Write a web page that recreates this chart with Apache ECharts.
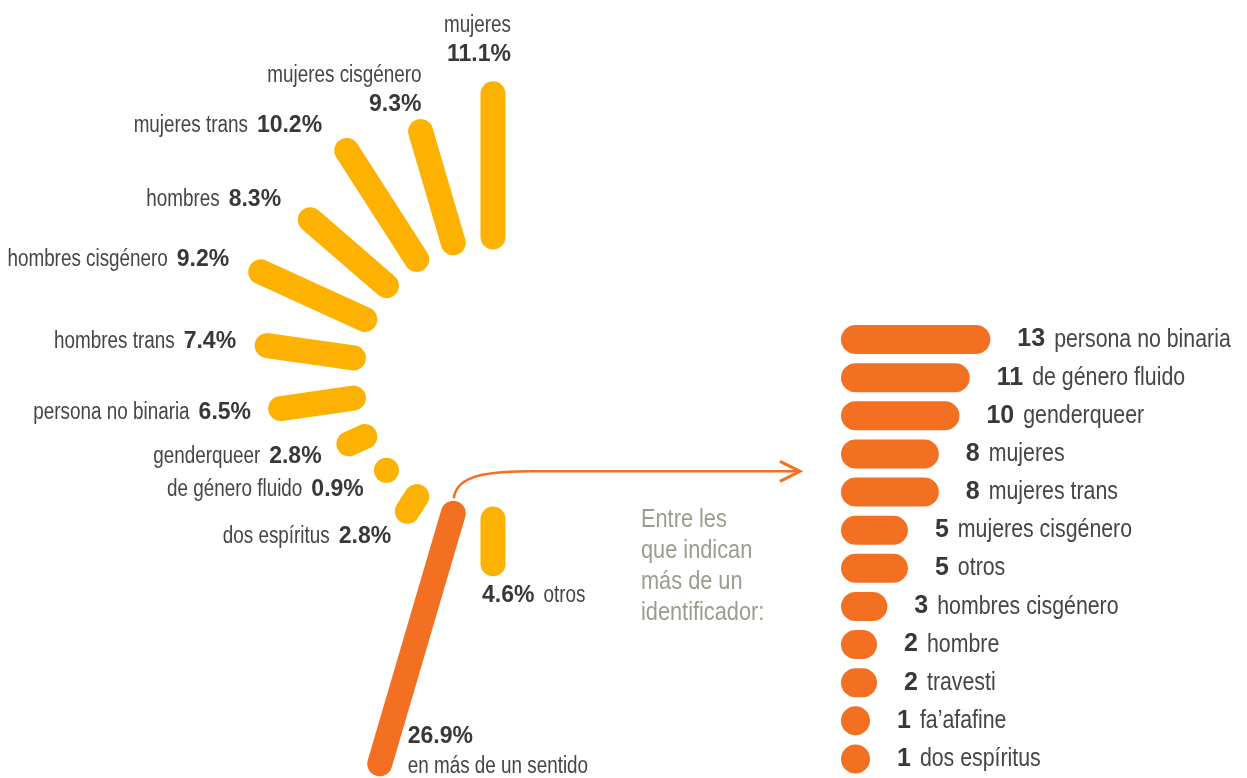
<!DOCTYPE html>
<html>
<head>
<meta charset="utf-8">
<script src="https://cdn.jsdelivr.net/npm/echarts@6/dist/echarts.min.js"></script>
<style>html,body{margin:0;padding:0;background:#fff}#c{width:1247px;height:778px}</style>
</head>
<body>
<div id="c"></div>
<script>
// ---------- data ----------
const radialCategories = ['mujeres', 'mujeres cisgénero', 'mujeres trans', 'hombres', 'hombres cisgénero',
  'hombres trans', 'persona no binaria', 'genderqueer', 'de género fluido', 'dos espíritus',
  'en más de un sentido', 'otros'];
const radialValues = [11.1, 9.3, 10.2, 8.3, 9.2, 7.4, 6.5, 2.8, 0.9, 2.8, 26.9, 4.6];
const multipleCategory = 'en más de un sentido';

const multiCategories = ['persona no binaria', 'de género fluido', 'genderqueer', 'mujeres', 'mujeres trans',
  'mujeres cisgénero', 'otros', 'hombres cisgénero', 'hombre', 'travesti', 'fa’afafine', 'dos espíritus'];
const multiCounts = [13, 11, 10, 8, 8, 5, 5, 3, 2, 2, 1, 1];

const annotationLines = ['Entre les', 'que indican', 'más de un', 'identificador:'];

// ---------- style ----------
const YELLOW = '#FDB100', ORANGE = '#F36F21', NAME = '#454545', NUM = '#383838', NOTE = '#9c9c8e';
const FONT = "'Liberation Sans', Arial, sans-serif";
const NSCALE = 0.82;           // narrow look for the regular-weight names
const ANGLE_SLOTS = 22;        // 12 spokes spread over a half turn
const X_MIN = -1.5;
const STROKE = 25;

const fmtPct = v => v.toFixed(1) + '%';

const mctx = document.createElement('canvas').getContext('2d');
function segWidth(s, size) {
  mctx.font = (s.b ? 'bold ' : '') + size + 'px ' + FONT;
  return mctx.measureText(s.t).width * (s.b ? 1 : (s.scale || NSCALE));
}
// builds absolutely-positioned text pieces for a label block
function labelEls(o) {
  const lines = o.lines.map(segs => {
    const ws = segs.map(s => segWidth(s, s.b ? o.bsize : o.size));
    return { segs, ws, w: ws.reduce((a, b) => a + b, 0) + o.gap * (segs.length - 1) };
  });
  const H = lines.length * o.lh;
  const top = o.va === 'bottom' ? o.y - H : o.va === 'middle' ? o.y - H / 2 : o.y;
  const els = [];
  lines.forEach((ln, li) => {
    let x = o.align === 'right' ? o.x - ln.w : o.x;
    const y = top + o.lh * (li + 0.5);
    ln.segs.forEach((s, si) => {
      els.push({ type: 'text', x: x, y: y, scaleX: s.b ? 1 : (s.scale || NSCALE), silent: true,
        style: { x: 0, y: 0, text: s.t, fontFamily: FONT, fontWeight: s.b ? 'bold' : 'normal',
          fontSize: s.b ? o.bsize : o.size, fill: s.b ? NUM : (o.color || NAME), align: 'left', verticalAlign: 'middle' } });
      x += ln.ws[si] + o.gap;
    });
  });
  return els;
}

function radialLabel(name, pct, cap, ux, uy) {
  let a = Math.atan2(-uy, ux) * 180 / Math.PI; if (a < 0) a += 360;
  const sn = -uy, cs = ux;
  const N = { t: name }, P = { t: pct, b: true };
  const base = { size: 23, bsize: 23, lh: 30, gap: 9 };
  if (a < 115) return labelEls(Object.assign(base, { x: cap[0] + 18 - 1.05 * (a - 90), y: cap[1] - 25 + 0.75 * (a - 90),
    lh: 29, align: 'right', va: 'bottom', lines: [[N], [P]] }));
  if (a <= 245) return labelEls(Object.assign(base, { x: cap[0] + 30 * cs - 10 * Math.max(sn, 0), y: cap[1] - 30 * sn,
    align: 'right', va: 'middle', lines: [[N, P]] }));
  if (a < 262) return labelEls(Object.assign(base, { x: cap[0] + 28, y: cap[1] - 12,
    align: 'left', va: 'middle', lines: [[P], [N]] }));
  return labelEls(Object.assign(base, { x: cap[0] - 11, y: cap[1] + 32, align: 'left', va: 'middle', lines: [[P, N]] }));
}

function radialRender(color) {
  return function (params, api) {
    const c = params.coordSys;
    const v = api.value(0), idx = api.value(1);
    const pIn = api.coord([0, idx]);
    const pOut = api.coord([v, idx]);
    const dl = Math.hypot(pIn[0] - c.cx, pIn[1] - c.cy);
    const ux = (pIn[0] - c.cx) / dl, uy = (pIn[1] - c.cy) / dl;
    const h = STROKE / 2;
    const len = Math.hypot(pOut[0] - pIn[0], pOut[1] - pIn[1]);
    const s = [pIn[0] + ux * h, pIn[1] + uy * h];
    const e = len > STROKE ? [pOut[0] - ux * h, pOut[1] - uy * h] : s;
    const children = [];
    if (len > STROKE) {
      children.push({ type: 'line', shape: { x1: s[0], y1: s[1], x2: e[0], y2: e[1] },
        style: { stroke: color, lineWidth: STROKE, lineCap: 'round' } });
    } else {
      children.push({ type: 'circle', shape: { cx: s[0], cy: s[1], r: h }, style: { fill: color } });
    }
    return { type: 'group', children: children.concat(radialLabel(radialCategories[idx], fmtPct(v), e, ux, uy)) };
  };
}

function barRender(params, api) {
  const v = api.value(0), row = api.value(1);
  const start = api.coord([X_MIN, row]);
  const end = api.coord([v, row]);
  const H = 29;
  const w = Math.max(end[0] - start[0], H);
  const lab = labelEls({ x: start[0] + w + 27, y: start[1], align: 'left', va: 'middle', size: 26, bsize: 25,
    lh: 30, gap: 9, lines: [[{ t: String(v), b: true }, { t: multiCategories[row] }]] });
  return { type: 'group', children: [
    { type: 'rect', shape: { x: start[0], y: start[1] - H / 2, width: w, height: H, r: H / 2 }, style: { fill: ORANGE } }
  ].concat(lab) };
}

const pairs = radialValues.map((v, i) => [v, i]);
const yellowData = pairs.filter(p => radialCategories[p[1]] !== multipleCategory);
const orangeData = pairs.filter(p => radialCategories[p[1]] === multipleCategory);
const multipleIdx = radialCategories.indexOf(multipleCategory);

const chart = echarts.init(document.getElementById('c'), null, { renderer: 'canvas' });
chart.setOption({
  animation: false,
  backgroundColor: '#fff',
  polar: [
    { center: [493, 378], radius: [128.5, 128.5 + 15.15 * 12] },
    { center: [493, 378], radius: [128.5, 128.5 + 10.63 * 30] }
  ],
  angleAxis: [
    { polarIndex: 0, type: 'value', min: 0, max: ANGLE_SLOTS, startAngle: 90, clockwise: false, show: false },
    { polarIndex: 1, type: 'value', min: 0, max: ANGLE_SLOTS, startAngle: 90, clockwise: false, show: false }
  ],
  radiusAxis: [
    { polarIndex: 0, type: 'value', min: 0, max: 12, show: false },
    { polarIndex: 1, type: 'value', min: 0, max: 30, show: false }
  ],
  grid: { left: 841, top: 320.5, width: 31.5 * 10.3, height: 12 * 38.36 },
  xAxis: { type: 'value', min: X_MIN, max: 30, show: false },
  yAxis: { type: 'category', data: multiCategories, inverse: true, show: false },
  series: [
    { type: 'custom', coordinateSystem: 'polar', polarIndex: 0, data: yellowData, renderItem: radialRender(YELLOW), silent: true },
    { type: 'custom', coordinateSystem: 'polar', polarIndex: 1, data: orangeData, renderItem: radialRender(ORANGE), silent: true },
    { type: 'custom', coordinateSystem: 'cartesian2d', data: multiCounts.map((c, i) => [c, i]), renderItem: barRender, silent: true }
  ]
});

// annotation arrow + note, anchored to the orange spoke and the bar list
const p0 = chart.convertToPixel({ seriesIndex: 1 }, [0, multipleIdx]);
const barStart = chart.convertToPixel({ seriesIndex: 2 }, [X_MIN, 0]);
const x0 = p0[0] - 3, y0 = p0[1] - 3, yh = y0 - 27, tip = barStart[0] - 41;
const noteEls = labelEls({ x: 641, y: 505, align: 'left', va: 'top', size: 25, bsize: 25, lh: 31, gap: 0,
  color: NOTE, lines: annotationLines.map(t => [{ t, scale: 0.87 }]) });
chart.setOption({
  graphic: [
    { type: 'bezierCurve', silent: true,
      shape: { x1: x0, y1: y0, cpx1: x0 + 2, cpy1: y0 - 18, cpx2: x0 + 20, cpy2: yh, x2: x0 + 75, y2: yh },
      style: { stroke: ORANGE, fill: null, lineWidth: 2.5 } },
    { type: 'line', silent: true, shape: { x1: x0 + 75, y1: yh, x2: tip, y2: yh },
      style: { stroke: ORANGE, lineWidth: 2.5 } },
    { type: 'polyline', silent: true, shape: { points: [[tip - 20, yh - 10], [tip, yh], [tip - 20, yh + 10]] },
      style: { stroke: ORANGE, fill: null, lineWidth: 3 } }
  ].concat(noteEls)
});
</script>
</body>
</html>
